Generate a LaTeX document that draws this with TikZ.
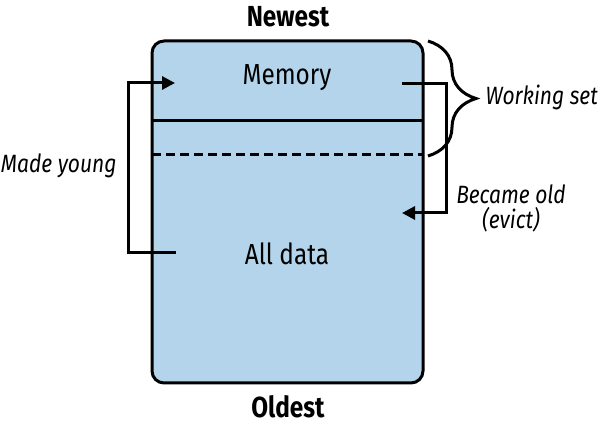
\documentclass[tikz,border=0pt]{standalone}
\usepackage{fontspec}
\setmainfont[FakeStretch=0.84]{Fira Sans}
\usepackage{xcolor}
\definecolor{cachefill}{RGB}{179, 212, 234}
\usetikzlibrary{arrows.meta, calc, positioning, decorations.pathreplacing}

\begin{document}
\begin{tikzpicture}[x=1pt, y=-1pt, >={Triangle[length=13pt, width=13pt]}, line width=3pt,
    lbl/.style={font=\fontsize{29}{34}\selectfont},
    note/.style={font=\fontsize{25}{29}\selectfont\itshape}]
  \useasboundingbox (0,0) rectangle (600,427);
  % cache box
  \node (box) [draw, fill=cachefill, rounded corners=12pt, minimum width=271pt, minimum height=342pt, inner sep=0pt] at (287.5,212) {};
  \draw (152,121) -- (423,121);
  \draw[dash pattern=on 9pt off 5pt] (152,155) -- (423,155);
  % labels
  \node[lbl, font=\fontsize{29}{34}\selectfont\bfseries] (newest) at (288,17) {Newest};
  \node[lbl, font=\fontsize{29}{34}\selectfont\bfseries] (oldest) at (288,407) {Oldest};
  \node[lbl] (mem) at (287,78) {Memory};
  \node[lbl] (all) at (287,254) {All data};
  % made young
  \coordinate (youngin) at (175,83);
  \coordinate (youngout) at (176,253);
  \draw[->] (youngout) -- (128,253) |- (youngin);
  \node[note, anchor=east, inner sep=1pt] (young) at (119,166) {Made young};
  % became old
  \coordinate (oldout) at (402,84);
  \coordinate (oldin) at (402,213);
  \draw[->] (oldout) -- (446,84) |- (oldin);
  \node[note, align=center, inner sep=1pt] (old) at (511,208) {Became old\\[-4pt](evict)};
  % working set
  \draw[decorate, decoration={brace, amplitude=48pt, aspect=0.5}] (428,41) -- (428,156);
  \node[note, anchor=west, inner sep=1pt] (wset) at (483,97) {Working set};
\end{tikzpicture}
\end{document}
